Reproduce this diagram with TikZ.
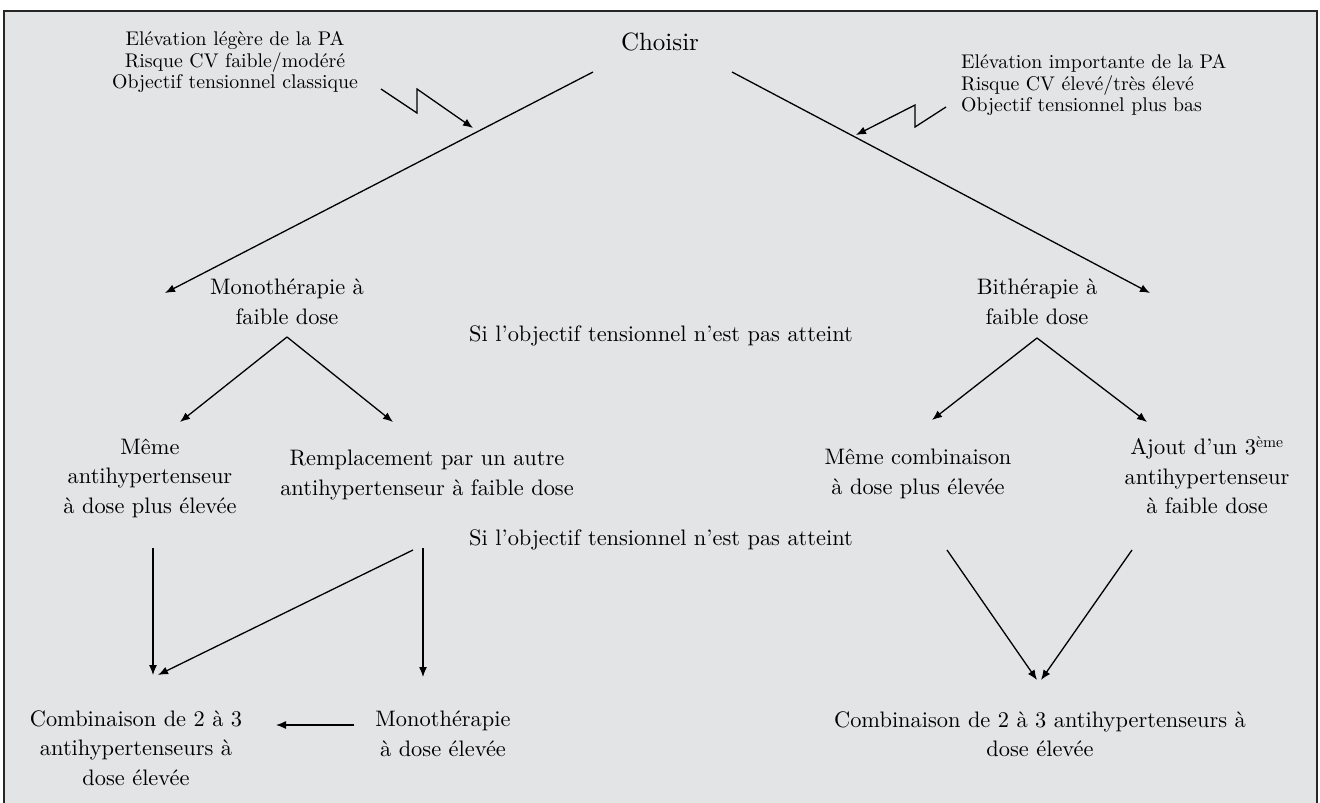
\documentclass[tikz,border=0pt]{standalone}
\usepackage{fontspec}
\setmainfont{lmroman10-regular.otf}
\usetikzlibrary{arrows.meta}
\definecolor{bggray}{HTML}{E3E4E6}
\tikzset{
  lbl/.style={inner sep=0pt, align=center, font=\fontsize{22.4}{29.5}\selectfont},
  anno/.style={inner sep=0pt, font=\fontsize{19.8}{21.7}\selectfont},
  arr/.style={line width=1.3pt, -{Latex[length=10pt,width=8pt]}},
  ln/.style={line width=1.3pt}
}
\begin{document}
\begin{tikzpicture}[x=1pt,y=-1pt]
\useasboundingbox (0,0) rectangle (1320,803);
\fill[white] (0,0) rectangle (1320,803);
\filldraw[fill=bggray, draw=black!85, line width=1.8pt] (4,11) rectangle (1317,820);

\node[lbl, font=\fontsize{25}{29}\selectfont] (choisir) at (660,42) {Choisir};
\node[anno, align=center] (annoL) at (235,62) {Elévation légère de la PA\\Risque CV faible/modéré\\Objectif tensionnel classique};
\node[anno, align=left, anchor=west] (annoR) at (961,85) {Elévation importante de la PA\\Risque CV élevé/très élevé\\Objectif tensionnel plus bas};

\node[lbl] (mono) at (287,302) {Monothérapie à\\faible dose};
\node[lbl] (bi) at (1037,302) {Bithérapie à\\faible dose};
\node[lbl] (si1) at (661,336) {Si l’objectif tensionnel n’est pas atteint};
\node[lbl] (meme) at (150,478) {Même\\antihypertenseur\\à dose plus élevée};
\node[lbl] (rempl) at (427,475) {Remplacement par un autre\\antihypertenseur à faible dose};
\node[lbl] (memecomb) at (918,474) {Même combinaison\\à dose plus élevée};
\node[lbl] (ajout) at (1207,475) {Ajout d’un 3\textsuperscript{ème}\\antihypertenseur\\à faible dose};
\node[lbl] (si2) at (661,540) {Si l’objectif tensionnel n’est pas atteint};
\node[lbl] (comb1) at (136,748) {Combinaison de 2 à 3\\antihypertenseurs à\\dose élevée};
\node[lbl] (mono2) at (443,734) {Monothérapie\\à dose élevée};
\node[lbl] (comb2) at (1040,734) {Combinaison de 2 à 3 antihypertenseurs à\\dose élevée};

% named connector ends
\coordinate (cL) at (593,72);
\coordinate (cR) at (732,72);
\coordinate (monoIn) at (165,293);
\coordinate (biIn) at (1150,293);
\coordinate (zL1) at (381,89);
\coordinate (zL2) at (417,113);
\coordinate (zL3) at (417,89);
\coordinate (zLt) at (473,128);
\coordinate (zR1) at (946,107);
\coordinate (zR2) at (915,127);
\coordinate (zR3) at (915,105);
\coordinate (zRt) at (856,135);
\coordinate (monoV) at (287,337);
\coordinate (memeIn) at (180,422);
\coordinate (remplIn) at (393,422);
\coordinate (biV) at (1037,338);
\coordinate (memecombIn) at (932,420);
\coordinate (ajoutIn) at (1147,422);
\coordinate (memeOut) at (153,548);
\coordinate (remplOutA) at (413,550);
\coordinate (remplOutB) at (423,548);
\coordinate (comb1InA) at (153,675);
\coordinate (comb1InB) at (158,675);
\coordinate (mono2In) at (423,677);
\coordinate (mono2Out) at (354,725);
\coordinate (comb1InC) at (276,725);
\coordinate (memecombOut) at (947,550);
\coordinate (ajoutOut) at (1132,550);
\coordinate (comb2InA) at (1037,680);
\coordinate (comb2InB) at (1041,680);

\draw[arr] (cL) -- (monoIn);
\draw[arr] (cR) -- (biIn);
\draw[arr] (zL1) -- (zL2) -- (zL3) -- (zLt);
\draw[arr] (zR1) -- (zR2) -- (zR3) -- (zRt);
\draw[arr] (monoV) -- (memeIn);
\draw[arr] (monoV) -- (remplIn);
\draw[arr] (biV) -- (memecombIn);
\draw[arr] (biV) -- (ajoutIn);
\draw[arr] (memeOut) -- (comb1InA);
\draw[arr] (remplOutA) -- (comb1InB);
\draw[arr] (remplOutB) -- (mono2In);
\draw[arr] (mono2Out) -- (comb1InC);
\draw[arr] (memecombOut) -- (comb2InA);
\draw[arr] (ajoutOut) -- (comb2InB);
\end{tikzpicture}
\end{document}
